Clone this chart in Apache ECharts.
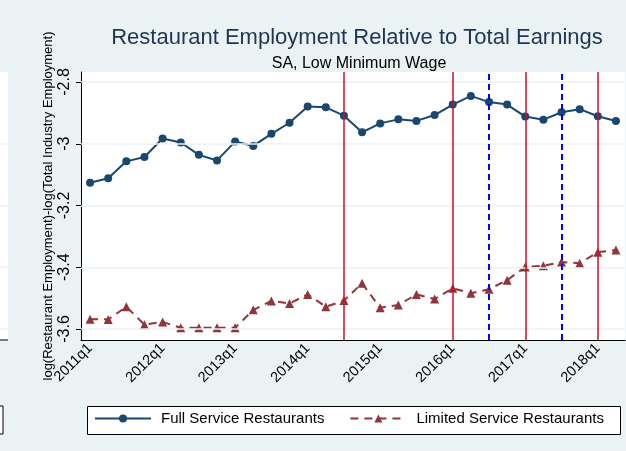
<!DOCTYPE html>
<html>
<head>
<meta charset="utf-8">
<script src="https://cdn.jsdelivr.net/npm/echarts@6/dist/echarts.min.js"></script>
<style>html,body{margin:0;padding:0;background:#eaf2f3;}#c{width:626px;height:451px;}</style>
</head>
<body>
<div id="c"></div>
<script>
const categories = [];
for (let y = 2011; y <= 2018; y++) for (let q = 1; q <= 4; q++) categories.push(y + 'q' + q);
categories.length = 30; // 2011q1 .. 2018q2

const fullService = [-3.126,-3.112,-3.057,-3.043,-2.983,-2.996,-3.036,-3.054,-2.993,-3.007,
  -2.968,-2.932,-2.879,-2.882,-2.909,-2.963,-2.934,-2.921,-2.926,-2.907,
  -2.873,-2.845,-2.865,-2.873,-2.912,-2.922,-2.898,-2.888,-2.911,-2.926];
const limitedService = [-3.568,-3.569,-3.528,-3.586,-3.577,-3.596,-3.596,-3.596,-3.596,-3.538,
  -3.509,-3.517,-3.488,-3.528,-3.508,-3.452,-3.531,-3.522,-3.488,-3.503,
  -3.468,-3.484,-3.471,-3.442,-3.399,-3.395,-3.383,-3.387,-3.351,-3.344];
const yTicks = [-3.6,-3.4,-3.2,-3,-2.8];
const redLines = ['2014q3','2016q1','2017q1','2018q1'];
const blueLines = ['2016q3','2017q3'];

const chart = echarts.init(document.getElementById('c'));
const font = 'Liberation Sans, Arial, sans-serif';
chart.setOption({
  backgroundColor: '#eaf2f3',
  animation: false,
  title: [
    {text: 'Restaurant Employment Relative to Total Earnings', left: 352, top: 22, textAlign: 'center',
     textStyle: {fontFamily: font, fontSize: 22, fontWeight: 'normal', color: '#1f3556'}},
    {text: 'SA, Low Minimum Wage', left: 354, top: 51, textAlign: 'center',
     textStyle: {fontFamily: font, fontSize: 16, fontWeight: 'normal', color: '#000'}}
  ],
  graphic: [
    {type: 'rect', shape: {x: 0, y: 72, width: 8, height: 268}, style: {fill: '#fff'}, z: 0},
    {type: 'line', shape: {x1: 0, y1: 144, x2: 8, y2: 144}, style: {stroke: '#eaf2f3', lineWidth: 1.5}},
    {type: 'line', shape: {x1: 0, y1: 206, x2: 8, y2: 206}, style: {stroke: '#eaf2f3', lineWidth: 1.5}},
    {type: 'line', shape: {x1: 0, y1: 267, x2: 8, y2: 267}, style: {stroke: '#eaf2f3', lineWidth: 1.5}},
    {type: 'line', shape: {x1: 0, y1: 329, x2: 8, y2: 329}, style: {stroke: '#eaf2f3', lineWidth: 1.5}},
    {type: 'line', shape: {x1: 0, y1: 340, x2: 8, y2: 340}, style: {stroke: '#000', lineWidth: 1}},
    {type: 'rect', shape: {x: -10, y: 406, width: 13, height: 28}, style: {fill: '#fff', stroke: '#000', lineWidth: 1}},
    {type: 'rect', shape: {x: 87.5, y: 406.5, width: 533, height: 28}, style: {fill: '#fff', stroke: '#000', lineWidth: 1}, z: 0}
  ],
  legend: {
    left: 88, top: 411, itemWidth: 56, itemHeight: 10, itemGap: 25, padding: [0, 6],
    textStyle: {fontFamily: font, fontSize: 15, color: '#000', padding: [0, 0, 0, 5]},
    data: ['Full Service Restaurants', 'Limited Service Restaurants']
  },
  grid: {left: 81, top: 72, right: 1, bottom: 111, containLabel: false,
    show: true, backgroundColor: '#fff', borderWidth: 0},
  xAxis: {
    type: 'category', data: categories, boundaryGap: true,
    axisLine: {lineStyle: {color: '#000', width: 1}},
    axisTick: {alignWithLabel: true, interval: i => i % 4 === 0, length: 5, lineStyle: {color: '#000'}},
    axisLabel: {interval: i => i % 4 === 0, rotate: 45, margin: 6, fontFamily: font, fontSize: 14.5, color: '#000'},
    splitLine: {show: false}
  },
  yAxis: {
    type: 'value', min: -3.6356, max: -2.7676,
    name: 'log(Restaurant Employment)-log(Total Industry Employment)',
    nameLocation: 'middle', nameGap: 26, nameRotate: 90, nameMoveOverlap: false,
    nameTextStyle: {fontFamily: font, fontSize: 13, color: '#000'},
    axisLine: {show: true, lineStyle: {color: '#000'}},
    axisTick: {show: true, customValues: yTicks, length: 5, lineStyle: {color: '#000'}},
    axisLabel: {customValues: yTicks, rotate: 90, margin: 8, fontFamily: font, fontSize: 16, color: '#000',
      formatter: v => String(Math.round(v * 10) / 10)},
    splitLine: {show: false}
  },
  series: [
    {
      name: 'grid', type: 'line', data: [], z: 1, silent: true,
      markLine: {symbol: 'none', silent: true, label: {show: false},
        lineStyle: {color: '#eaf2f3', width: 1.5, type: 'solid'},
        data: yTicks.map(v => ({yAxis: v}))}
    },
    {
      name: 'events', type: 'line', data: [], z: 2, silent: true,
      markLine: {symbol: 'none', silent: true, label: {show: false},
        data: redLines.map(c => ({xAxis: c, lineStyle: {color: '#c8102e', width: 1.5, type: 'solid'}}))
          .concat(blueLines.map(c => ({xAxis: c, lineStyle: {color: '#0000ff', width: 2, type: [6, 4]}})))}
    },
    {
      name: 'Full Service Restaurants', type: 'line', data: fullService, z: 3,
      symbol: 'circle', symbolSize: 8, color: '#1a476f',
      lineStyle: {color: '#1a476f', width: 2}, itemStyle: {color: '#1a476f'}
    },
    {
      name: 'Limited Service Restaurants', type: 'line', data: limitedService, z: 3,
      symbol: 'triangle', symbolSize: 9, color: '#90353b',
      lineStyle: {color: '#90353b', width: 2, type: [8, 6]}, itemStyle: {color: '#90353b'}
    }
  ]
});
</script>
</body>
</html>
